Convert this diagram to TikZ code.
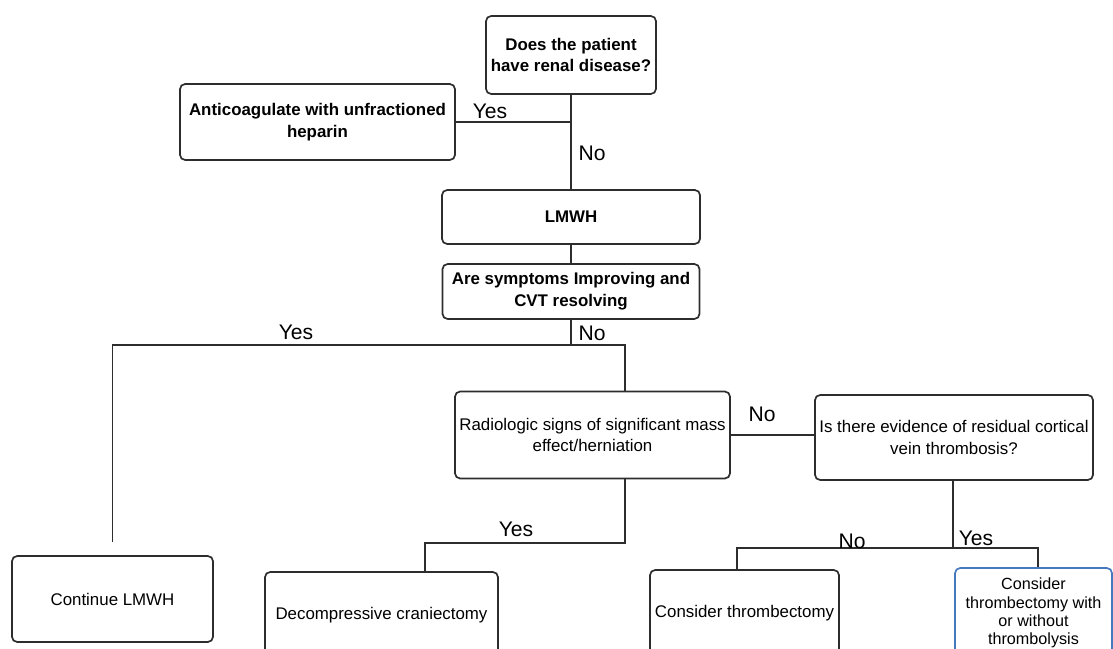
\documentclass[tikz,border=0pt]{standalone}
\usepackage{fontspec}
\setmainfont{Liberation Sans}
\usetikzlibrary{positioning}
\definecolor{linegray}{RGB}{45,45,45}
\definecolor{boxblue}{RGB}{70,120,190}

\begin{document}
\begin{tikzpicture}[
    x=0.025cm, y=-0.025cm,
    box/.style={rectangle,rounded corners=1.3mm,draw=linegray,line width=1.2pt,
      align=center,inner sep=1pt},
    qbox/.style={box,font=\fontsize{12}{15.5}\selectfont\bfseries},
    abox/.style={box,font=\fontsize{12}{15.5}\selectfont},
    link/.style={draw=linegray,line width=1.3pt},
    lbl/.style={font=\fontsize{15}{17}\selectfont,inner sep=1pt}
  ]
    \useasboundingbox (0,0) rectangle (1113,649);
    \clip (0,0) rectangle (1113,649);

    % questions
    \node[qbox,minimum width=4.25cm,minimum height=1.95cm] (renal) at (571,55)
      {Does the patient\\have renal disease?};
    \node[qbox,minimum width=6.875cm,minimum height=1.9cm] (ufh) at (317.5,122)
      {Anticoagulate with unfractioned\\heparin};
    \node[qbox,minimum width=6.45cm,minimum height=1.35cm] (lmwh) at (571,217) {LMWH};
    \node[qbox,minimum width=6.425cm,minimum height=1.375cm] (symp) at (571,291.5)
      {Are symptoms Improving and\\CVT resolving};

    \node[abox,minimum width=6.875cm,minimum height=2.175cm] (radio) at (592.5,435)
      {Radiologic signs of significant mass\\effect/herniation};
    \node[abox,minimum width=6.95cm,minimum height=2.125cm] (evid) at (954,437.5)
      {Is there evidence of residual cortical\\vein thrombosis?};

    % outcomes
    \node[abox,minimum width=5.025cm,minimum height=2.15cm] (cont) at (112.5,599) {Continue LMWH};
    \node[abox,minimum width=5.825cm,minimum height=2.15cm] (decomp) at (381.5,615)
      {Decompressive craniectomy};
    \node[abox,minimum width=4.725cm,minimum height=2.15cm] (thromb) at (744.5,613)
      {Consider thrombectomy};
    \node[abox,draw=boxblue,font=\fontsize{11.5}{13}\selectfont,
      minimum width=3.925cm,minimum height=2.25cm] (both) at (1033.5,613)
      {Consider\\thrombectomy with\\or without\\thrombolysis};

    % junctions
    \coordinate (split) at (625,345);
    \coordinate (radiodown) at (625,543);
    \coordinate (decompin) at (425,543);
    \coordinate (evidsplit) at (953,548);

    % connectors
    \draw[link] (renal.south) -- (lmwh.north);
    \draw[link] (ufh.east) -- (ufh.east -| renal.south);
    \draw[link] (lmwh.south) -- (symp.north);
    \draw[link] (symp.south) -- (symp.south |- split);
    \draw[link,shorten <=13*0.025cm] (cont.north) |- (split) -- (split |- radio.north);
    \draw[link] (radio.east) -- (radio.east -| evid.west);
    \draw[link] (split |- radio.south) -- (radiodown) -- (decompin) -- (decompin |- decomp.north);
    \draw[link] (evid.south -| evidsplit) -- (evidsplit);
    \draw[link] (thromb.north -| 737,0) |- (evidsplit) -| (both.north -| 1038,0);

    % labels
    \node[lbl] (yes1) at (490,111) {Yes};
    \node[lbl] (no1) at (592,153) {No};
    \node[lbl] (yes2) at (296,332) {Yes};
    \node[lbl] (no2) at (592,333) {No};
    \node[lbl] (no3) at (762,414) {No};
    \node[lbl] (yes3) at (516,529) {Yes};
    \node[lbl] (no4) at (852,541) {No};
    \node[lbl] (yes4) at (976,538) {Yes};
  \end{tikzpicture}
\end{document}
